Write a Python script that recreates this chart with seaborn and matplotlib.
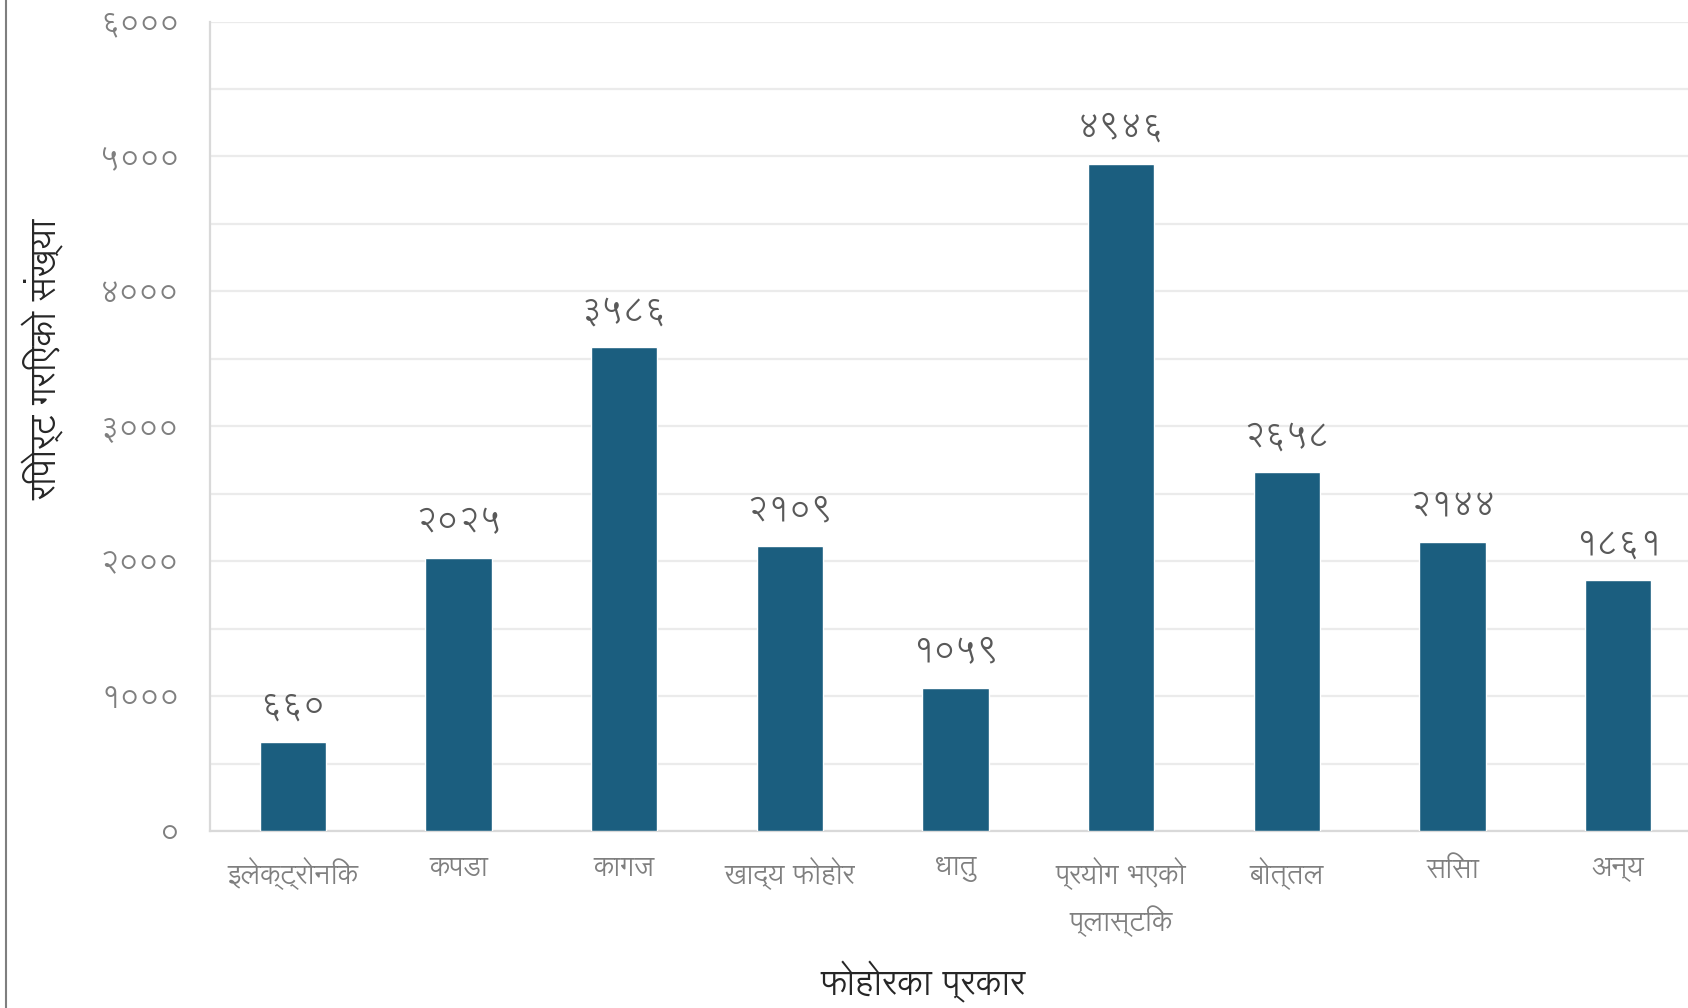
import matplotlib
matplotlib.use("Agg")
import matplotlib.pyplot as plt
from matplotlib.lines import Line2D
import seaborn as sns
import pandas as pd

categories = ["इलेक्ट्रोनिक", "कपडा", "कागज", "खाद्य फोहोर", "धातु",
              "प्रयोग भएको\nप्लास्टिक", "बोत्तल", "सिसा", "अन्य"]
values = [660, 2025, 3586, 2109, 1059, 4946, 2658, 2144, 1861]
ytick_values = [0, 1000, 2000, 3000, 4000, 5000, 6000]
x_title = "फोहोरका प्रकार"
y_title = "रिपोर्ट गरिएको संख्या"

DEV = str.maketrans("0123456789", "०१२३४५६७८९")
def dev(n):
    return str(n).translate(DEV)

sns.set_theme(style="white")
FONT = ["Lohit Devanagari", "Annapurna SIL", "Noto Sans Devanagari", "DejaVu Sans"]
plt.rcParams["font.family"] = FONT

df = pd.DataFrame({"cat": categories, "val": values})

fig = plt.figure(figsize=(16.88, 10.08), dpi=100)
ax = fig.add_axes([0.1244, 0.1756, 0.8833, 0.803])

sns.barplot(data=df, x="cat", y="val", color="#1B5E7F", width=0.4,
            saturation=1, ax=ax, zorder=3)

ax.set_ylim(0, 6000)
ax.set_xlim(-0.5, len(categories) - 0.5)
ax.set_yticks(ytick_values)
ax.set_yticklabels([dev(v) for v in ytick_values], color="#7F7F7F", fontsize=22)
ax.set_yticks(range(500, 6000, 1000), minor=True)
ax.grid(axis="y", which="both", color="#EBEBEB", linewidth=1.6, zorder=0)
ax.set_axisbelow(True)
ax.tick_params(axis="y", which="both", length=0, pad=22)
ax.tick_params(axis="x", length=0, pad=19, labelsize=20, labelcolor="#7F7F7F")
for lbl in ax.get_xticklabels():
    lbl.set_linespacing(1.6)

for s in ["top", "right"]:
    ax.spines[s].set_visible(False)
for s in ["left", "bottom"]:
    ax.spines[s].set_color("#D9D9D9")
    ax.spines[s].set_linewidth(1.6)

for i, v in enumerate(values):
    ax.annotate(dev(v), (i, v), xytext=(0, 15), textcoords="offset points",
                ha="center", va="bottom", fontsize=24, color="#595959")

ax.set_xlabel("")
ax.set_ylabel("")
fig.text(0.5466, 0.026, x_title, ha="center", va="center", fontsize=25, color="#262626")
fig.text(0.0255, 0.644, y_title, ha="center", va="center", rotation=90, fontsize=25, color="#262626")

fig.add_artist(Line2D([0.0035, 0.0035], [0, 1], transform=fig.transFigure,
                      color="#7F7F7F", linewidth=1.5))

fig.savefig("out.png", dpi=100)
